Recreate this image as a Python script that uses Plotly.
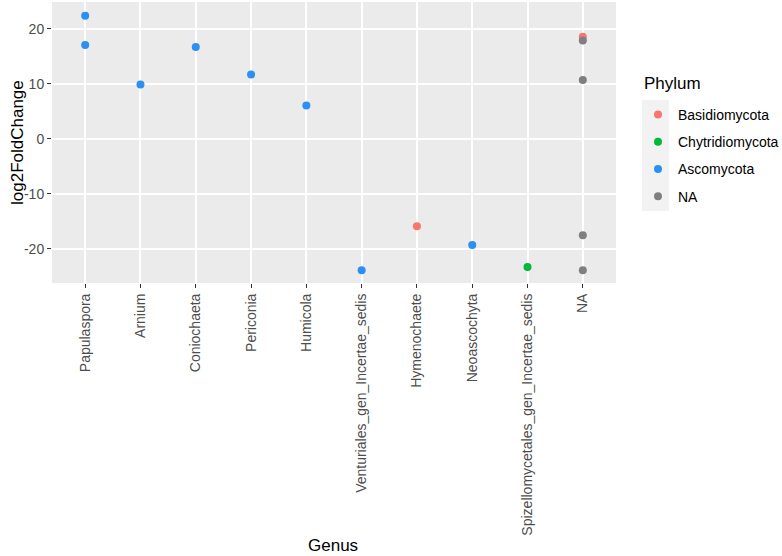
import plotly.graph_objects as go

genus_order = ["Papulaspora", "Arnium", "Coniochaeta", "Periconia", "Humicola",
               "Venturiales_gen_Incertae_sedis", "Hymenochaete", "Neoascochyta",
               "Spizellomycetales_gen_Incertae_sedis", "NA"]

# one entry per point
genus = ["Papulaspora", "Papulaspora", "Arnium", "Coniochaeta", "Periconia", "Humicola",
         "Venturiales_gen_Incertae_sedis", "Hymenochaete", "Neoascochyta",
         "Spizellomycetales_gen_Incertae_sedis", "NA", "NA", "NA", "NA", "NA"]
log2fc = [22.4, 17.1, 9.9, 16.7, 11.7, 6.1, -23.9, -15.9, -19.3, -23.3,
          18.6, 17.9, 10.7, -17.5, -23.9]
phylum = ["Ascomycota", "Ascomycota", "Ascomycota", "Ascomycota", "Ascomycota", "Ascomycota",
          "Ascomycota", "Basidiomycota", "Ascomycota", "Chytridiomycota",
          "Basidiomycota", "NA", "NA", "NA", "NA"]

phylum_order = ["Basidiomycota", "Chytridiomycota", "Ascomycota", "NA"]
phylum_colors = ["#F8766D", "#00BA38", "#2B8FF3", "#7F7F7F"]

y_ticks = [-20, -10, 0, 10, 20]
y_labels = ["-20", "-10", "0", "10", "20"]

FONT = "Liberation Sans, Arial, Helvetica, sans-serif"

fig = go.Figure()
for ph, col in zip(phylum_order, phylum_colors):
    xs = [g for g, p in zip(genus, phylum) if p == ph]
    ys = [v for v, p in zip(log2fc, phylum) if p == ph]
    fig.add_trace(go.Scatter(x=xs, y=ys, mode="markers", name=ph, legendgroup=ph,
                             marker=dict(color=col, size=8, line=dict(width=0))))

# left/right/top/bottom of the panel in pixels
L, R, T, B = 52, 616, 2, 283
W, H = 782, 556
pw, ph_ = R - L, B - T


def px_x(x):
    return (x - L) / pw


def px_y(y):
    return 1 - (y - T) / ph_


fig.update_layout(
    width=W, height=H,
    margin=dict(l=L, r=W - R, t=T, b=H - B, autoexpand=False),
    paper_bgcolor="white",
    plot_bgcolor="#EBEBEB",
    font=dict(family=FONT, size=14, color="black"),
    legend=dict(
        x=px_x(638), y=px_y(99), xanchor="left", yanchor="top",
        bgcolor="rgba(0,0,0,0)", font=dict(size=14, color="black"),
        tracegroupgap=6, itemclick=False,
    ),
    showlegend=True,
)

fig.add_shape(type="rect", xref="paper", yref="paper",
              x0=px_x(642), x1=px_x(669), y0=px_y(211), y1=px_y(100),
              fillcolor="#F2F2F2", line=dict(width=0), layer="below")

fig.update_xaxes(
    type="category", categoryorder="array", categoryarray=genus_order,
    range=[-0.6, 9.6], showgrid=True, gridcolor="white", gridwidth=1.8,
    zeroline=False, ticks="outside", ticklen=4, tickcolor="#333333", tickwidth=1,
    tickangle=-90, tickfont=dict(size=14, color="#4D4D4D", family=FONT),
    showline=False, automargin=False,
)
fig.update_yaxes(
    range=[-26.2, 24.9], tickvals=y_ticks, ticktext=y_labels,
    showgrid=True, gridcolor="white", gridwidth=1.8, zeroline=False,
    ticks="outside", ticklen=4, tickcolor="#333333", tickwidth=1,
    tickfont=dict(size=14, color="#4D4D4D", family=FONT), showline=False,
    automargin=False,
)

fig.add_annotation(text="Phylum", xref="paper", yref="paper",
                   x=px_x(642), y=px_y(83), showarrow=False,
                   font=dict(size=17, color="black"), xanchor="left", yanchor="middle")
fig.add_annotation(text="log2FoldChange", xref="paper", yref="paper",
                   x=px_x(17), y=px_y(143), textangle=-90, showarrow=False,
                   font=dict(size=17, color="black"), xanchor="center", yanchor="middle")
fig.add_annotation(text="Genus", xref="paper", yref="paper",
                   x=px_x(333), y=px_y(545), showarrow=False,
                   font=dict(size=17, color="black"), xanchor="center", yanchor="middle")

# the page body has a default 8px margin; drop it so the figure sits at 0,0
fig.write_html("out.html", config={"displayModeBar": False},
               post_script="document.body.style.margin='0';")
